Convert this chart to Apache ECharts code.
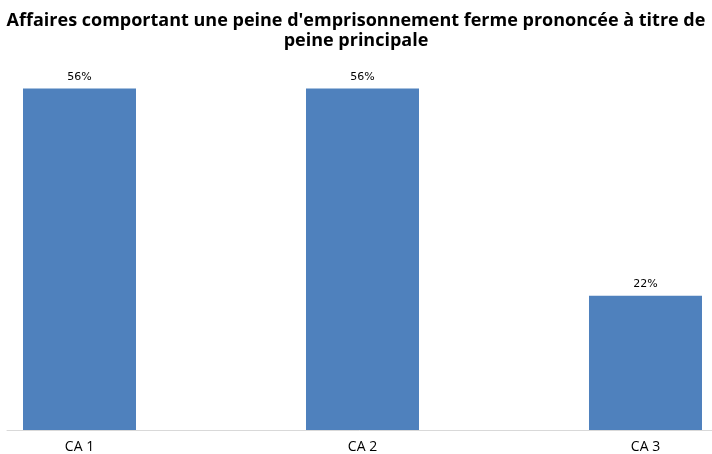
<!DOCTYPE html>
<html>
<head>
<meta charset="utf-8">
<script src="https://cdn.jsdelivr.net/npm/echarts@6/dist/echarts.min.js"></script>
<style>html,body{margin:0;padding:0;background:#fff;}#c{width:712px;height:454px;}</style>
</head>
<body>
<div id="c"></div>
<script>
var categories = ['CA 1', 'CA 2', 'CA 3'];
var values = [56, 56, 22];
var titleText = "Affaires comportant une peine d'emprisonnement ferme prononcée à titre de\npeine principale";

var seriesData = values.map(function(v, i){ return [i, v]; });

var chart = echarts.init(document.getElementById('c'), null, {renderer: 'canvas'});
chart.setOption({
  animation: false,
  backgroundColor: '#ffffff',
  title: {
    text: titleText,
    left: 'center',
    top: 6,
    textStyle: {fontFamily: 'Open Sans', fontWeight: 'bold', fontSize: 18, color: '#000', lineHeight: 20}
  },
  grid: {left: 7, right: 0, top: 64, bottom: 24, containLabel: false},
  xAxis: {
    type: 'value',
    min: -0.2562,
    max: 2.235,
    splitLine: {show: false},
    axisLine: {show: true, onZero: false, lineStyle: {color: '#D9D9D9', width: 1}},
    axisTick: {show: false},
    axisLabel: {
      fontFamily: 'Open Sans', fontSize: 14, color: '#000', margin: 10,
      customValues: [0, 1, 2],
      formatter: function(v){ return categories[Math.round(v)]; }
    }
  },
  yAxis: {
    type: 'value', min: 0, max: 60,
    show: false,
    splitLine: {show: false}
  },
  series: [{
    type: 'bar',
    data: seriesData,
    barWidth: 113,
    itemStyle: {color: '#4F81BD'},
    label: {
      show: true, position: 'top', distance: 6,
      formatter: function(p){ return p.value[1] + '%'; },
      fontFamily: 'DejaVu Sans', fontSize: 11, color: '#000'
    }
  }]
});
</script>
</body>
</html>
